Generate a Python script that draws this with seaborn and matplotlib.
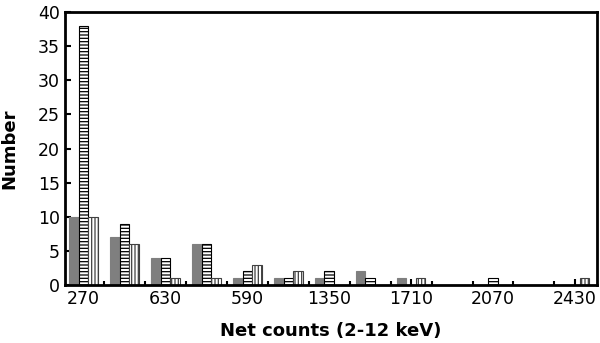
import pandas as pd
import seaborn as sns
import matplotlib.pyplot as plt

# net-count bins (2-12 keV); tick labels as printed on the original figure
bins = ["270", "450", "630", "810", "990", "1170", "1350",
        "1530", "1710", "1890", "2070", "2250", "2430"]
tick_labels = ["270", "630", "590", "1350", "1710", "2070", "2430"]

sample_a = [10, 7, 4, 6, 1, 1, 1, 2, 1, 0, 0, 0, 0]
sample_b = [38, 9, 4, 6, 2, 1, 2, 1, 0, 0, 1, 0, 0]
sample_c = [10, 6, 1, 1, 3, 2, 0, 0, 1, 0, 0, 0, 1]

series = ["A", "B", "C"]

df = pd.DataFrame({
    "bin": bins * 3,
    "series": [s for s in series for _ in bins],
    "count": sample_a + sample_b + sample_c,
})

sns.set_style("ticks")
plt.rcParams["font.family"] = ["DejaVu Sans"]
plt.rcParams["text.color"] = "black"
plt.rcParams["axes.labelcolor"] = "black"
plt.rcParams["xtick.color"] = "black"
plt.rcParams["ytick.color"] = "black"
plt.rcParams["axes.edgecolor"] = "black"
plt.rcParams["hatch.linewidth"] = 0.9

fig = plt.figure(figsize=(6, 3.43), dpi=100)
ax = fig.add_axes([0.108, 0.169, 0.887, 0.796])

sns.barplot(data=df, x="bin", y="count", hue="series", order=bins,
            hue_order=series, width=0.7, palette=["#7f7f7f", "white", "white"],
            saturation=1, legend=False, ax=ax)

styles = [("", "#7f7f7f"), ("-----", "black"), ("|||||", "#404040")]
for cont, (hatch, ec) in zip(ax.containers, styles):
    for bar in cont:
        bar.set_hatch(hatch)
        bar.set_edgecolor(ec)
        bar.set_linewidth(0.8)

ax.set_xlim(-0.46, 12.54)
ax.set_ylim(0, 40)
ax.set_yticks(range(0, 41, 5))
ax.set_xticks(range(0, 13, 2))
ax.set_xticklabels(tick_labels)
ax.set_xticks([i + 0.5 for i in range(12)], minor=True)

ax.tick_params(axis="both", direction="in", labelsize=12.5, width=1.5, length=4,
               colors="black")
ax.tick_params(axis="x", which="minor", direction="in", width=1.5, length=3)
for sp in ax.spines.values():
    sp.set_linewidth(2)
    sp.set_color("black")
    sp.set_visible(True)

ax.set_xlabel("Net counts (2-12 keV)", fontsize=13, fontweight="bold",
              labelpad=10, color="black")
ax.set_ylabel("Number", fontsize=13, fontweight="bold", labelpad=14,
              color="black")

fig.savefig("out.png", dpi=100)
